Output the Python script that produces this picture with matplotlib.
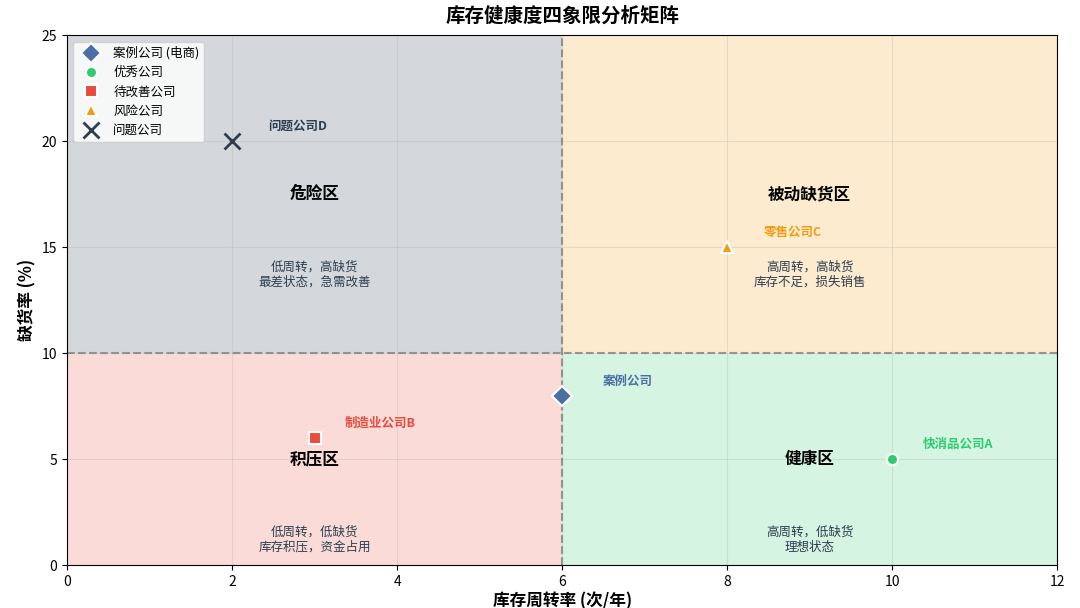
import matplotlib
matplotlib.use("Agg")
import matplotlib.pyplot as plt

plt.rcParams['font.family'] = ['Noto Sans CJK SC', 'DejaVu Sans']
plt.rcParams['axes.unicode_minus'] = False

names = ['案例公司 (电商)', '优秀公司', '待改善公司', '风险公司', '问题公司']
labels = ['案例公司', '快消品公司A', '制造业公司B', '零售公司C', '问题公司D']
turnover = [6, 10, 3, 8, 2]
stockout = [8, 5, 6, 15, 20]
colors = ['#4a6fa5', '#2ecc71', '#e74c3c', '#f39c12', '#2c3e50']
markers = ['D', 'o', 's', '^', 'x']

quad_titles = ['危险区', '被动缺货区', '积压区', '健康区']
quad_desc = ['低周转，高缺货\n最差状态，急需改善', '高周转，高缺货\n库存不足，损失销售',
             '低周转，低缺货\n库存积压，资金占用', '高周转，低缺货\n理想状态']
quad_pos = [(3, 17.5), (9, 17.5), (3, 5), (9, 5)]
quad_rect = [(0, 10, 15), (6, 10, 15), (0, 0, 10), (6, 0, 10)]
quad_col = ['#2c3e50', '#f39c12', '#e74c3c', '#2ecc71']

fig = plt.figure(figsize=(10.8, 6.08), dpi=100)
ax = fig.add_axes([0.062, 0.07, 0.917, 0.872])
for (x0, y0, h), c in zip(quad_rect, quad_col):
    ax.add_patch(plt.Rectangle((x0, y0), 6, h, color=c, alpha=0.2, lw=0, zorder=0))
ax.axvline(6, color='gray', ls='--', lw=1.5, alpha=0.8)
ax.axhline(10, color='gray', ls='--', lw=1.5, alpha=0.8)
for t, d, (x, y) in zip(quad_titles, quad_desc, quad_pos):
    ax.text(x, y, t, ha='center', va='center', fontsize=12, fontweight='bold')
    ax.text(x, y - 3.8, d, ha='center', va='center', fontsize=9, color='#2c3e50')
for n, l, x, y, c, m in zip(names, labels, turnover, stockout, colors, markers):
    if m == 'x':
        ax.plot(x, y, marker=m, color=c, ms=11, mew=2, ls='none', label=n, zorder=5)
    else:
        ax.plot(x, y, marker=m, color=c, ms=10 if m == 'D' else 8, mec='white', mew=1.5,
                ls='none', label=n, zorder=5)
    ax.text(x + 0.8, y + 0.7, l, ha='center', va='center', fontsize=9, fontweight='bold', color=c)
ax.set_xlim(0, 12)
ax.set_ylim(0, 25)
ax.grid(True, alpha=0.3)
ax.set_xlabel('库存周转率 (次/年)', fontsize=12, fontweight='bold', labelpad=2)
ax.set_ylabel('缺货率 (%)', fontsize=12, fontweight='bold')
ax.set_title('库存健康度四象限分析矩阵', fontsize=14, fontweight='bold', pad=10)
ax.legend(loc='upper left', fontsize=9)
fig.savefig('out.png', dpi=100)
